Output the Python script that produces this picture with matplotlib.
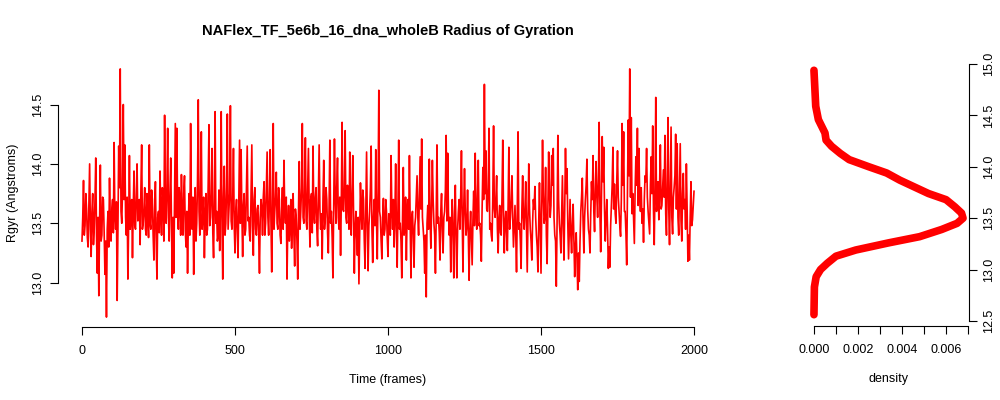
import numpy as np
import matplotlib
matplotlib.use("Agg")
import matplotlib.pyplot as plt

plt.rcParams["font.family"] = ["Liberation Sans", "DejaVu Sans"]

# --- data ---
# samples every 5 frames (spikes and dips)
frames = list(range(0, 2001, 5))
rgyr = [
    13.35, 13.86, 13.48, 13.62, 13.30, 14.00, 13.22, 13.75, 13.45, 14.05,
    13.08, 12.89, 13.99, 13.40, 13.70, 13.07, 12.71, 13.60, 13.88, 13.35,
    13.70, 14.18, 13.45, 12.85, 14.15, 14.80, 13.50, 14.50, 14.16, 13.40,
    13.03, 14.07, 13.55, 13.21, 13.94, 13.45, 14.00, 13.60, 13.32, 14.16,
    13.50, 13.80, 13.40, 13.65, 14.16, 13.45, 13.70, 13.19, 13.85, 13.03,
    13.60, 13.94, 13.40, 13.70, 14.41, 13.50, 14.30, 13.35, 14.05, 13.04,
    13.08, 14.34, 14.30, 13.45, 13.70, 13.91, 13.40, 13.90, 13.30, 13.08,
    13.75, 14.34, 13.45, 13.07, 13.80, 13.50, 14.54, 13.40, 14.27, 13.60,
    13.21, 13.75, 13.45, 14.33, 13.55, 14.13, 13.21, 14.44, 13.60, 13.40,
    13.27, 14.44, 13.03, 13.98, 13.50, 14.42, 13.60, 14.49, 13.45, 14.13,
    13.25, 13.70, 13.21, 14.20, 14.12, 13.22, 13.75, 13.45, 14.15, 13.55,
    13.35, 14.16, 13.23, 13.80, 13.40, 13.65, 13.08, 13.70, 13.40, 13.85,
    13.50, 14.10, 13.40, 14.12, 13.09, 14.34, 13.60, 13.93, 13.45, 13.70,
    13.33, 13.80, 14.03, 13.50, 13.03, 13.65, 13.45, 13.29, 13.75, 13.14,
    13.55, 13.03, 14.02, 13.60, 14.34, 13.50, 14.22, 13.45, 14.13, 13.30,
    13.75, 14.15, 13.50, 13.80, 13.31, 14.16, 13.45, 13.20, 14.03, 13.55,
    13.70, 13.25, 14.20, 13.60, 13.04, 14.21, 13.50, 14.05, 13.45, 13.23,
    14.35, 13.60, 14.28, 13.50, 13.75, 14.10, 13.40, 14.07, 13.08, 13.60,
    13.23, 12.99, 13.84, 13.45, 13.70, 13.12, 14.10, 13.10, 13.60, 14.15,
    13.17, 13.70, 14.12, 13.20, 14.62, 13.55, 13.20, 13.71, 13.45, 13.60,
    13.22, 13.55, 14.07, 13.45, 13.30, 14.00, 13.13, 14.20, 13.50, 13.04,
    13.97, 13.45, 13.19, 13.70, 14.07, 13.04, 13.60, 13.13, 13.55, 13.90,
    13.40, 14.06, 14.21, 13.45, 13.08, 12.88, 13.65, 14.04, 13.29, 14.03,
    13.50, 13.08, 14.16, 13.55, 13.19, 13.75, 13.25, 13.60, 14.24, 14.09,
    13.40, 13.09, 13.70, 13.04, 13.82, 13.04, 13.60, 13.45, 14.11, 13.09,
    13.96, 13.40, 13.78, 13.02, 13.60, 13.15, 13.77, 14.09, 13.45, 14.03,
    13.50, 13.18, 13.97, 14.67, 14.11, 13.60, 14.30, 13.50, 13.35, 14.32,
    13.55, 13.90, 13.25, 13.65, 13.40, 14.20, 13.25, 13.60, 13.27, 14.14,
    13.55, 13.90, 13.30, 13.65, 13.09, 14.27, 13.50, 13.12, 13.90, 13.45,
    13.85, 13.09, 14.00, 13.45, 13.19, 13.70, 13.81, 13.40, 13.09, 13.84,
    13.08, 14.20, 13.50, 13.97, 13.16, 14.10, 13.55, 14.07, 14.13, 13.40,
    12.97, 14.24, 13.50, 13.25, 13.90, 13.19, 14.13, 13.96, 13.20, 13.70,
    13.25, 13.66, 13.05, 13.42, 12.94, 13.01, 13.60, 13.88, 13.25, 13.70,
    14.04, 13.45, 13.25, 13.85, 14.07, 13.43, 14.02, 13.55, 14.35, 13.26,
    14.23, 14.14, 13.35, 13.70, 13.12, 13.13, 13.65, 14.14, 13.83, 13.50,
    14.11, 13.60, 13.39, 14.34, 14.27, 13.60, 13.15, 14.37, 14.80, 14.39,
    13.75, 13.33, 14.06, 14.30, 14.13, 13.60, 13.50, 13.34, 13.90, 14.13,
    13.60, 13.41, 14.06, 14.32, 13.32, 14.56, 13.70, 13.53, 14.16, 13.65,
    13.95, 14.24, 13.40, 14.39, 13.32, 14.31, 13.41, 13.80, 14.25, 14.17,
    13.40, 14.17, 13.35, 13.92, 13.70, 14.00, 13.18, 13.19, 13.85, 13.53,
    13.77,
]

# in-between frames (2.5, 7.5, ...): the dense band around the mean
frames_mid = [f + 2.5 for f in range(0, 2000, 5)]
rgyr_mid = [
    13.55, 13.40, 13.75, 13.38, 13.65, 13.45, 13.60, 13.32, 13.70, 13.40,
    13.55, 13.50, 13.35, 13.72, 13.42, 13.35, 13.45, 13.30, 13.50, 13.62,
    13.42, 13.55, 13.68, 13.45, 13.80, 13.60, 13.78, 13.70, 13.55, 13.72,
    13.50, 13.45, 13.70, 13.62, 13.48, 13.75, 13.52, 13.70, 13.78, 13.45,
    13.62, 13.45, 13.75, 13.38, 13.50, 13.78, 13.40, 13.62, 13.35, 13.55,
    13.42, 13.58, 13.80, 13.35, 13.62, 13.80, 13.55, 13.75, 13.48, 13.55,
    13.70, 13.55, 13.62, 13.80, 13.40, 13.58, 13.75, 13.45, 13.60, 13.50,
    13.40, 13.62, 13.72, 13.48, 13.35, 13.85, 13.60, 13.75, 13.45, 13.72,
    13.55, 13.40, 13.85, 13.48, 13.75, 13.42, 13.70, 13.50, 13.35, 13.78,
    13.65, 13.50, 13.72, 13.40, 13.80, 13.45, 13.75, 13.52, 13.70, 13.48,
    13.60, 13.42, 13.72, 13.50, 13.58, 13.65, 13.40, 13.78, 13.52, 13.40,
    13.78, 13.48, 13.70, 13.45, 13.62, 13.40, 13.55, 13.62, 13.72, 13.40,
    13.78, 13.55, 13.70, 13.52, 13.62, 13.45, 13.72, 13.50, 13.80, 13.40,
    13.60, 13.45, 13.62, 13.72, 13.48, 13.35, 13.70, 13.55, 13.40, 13.62,
    13.35, 13.60, 13.45, 13.80, 13.55, 13.75, 13.52, 13.78, 13.60, 13.70,
    13.42, 13.58, 13.72, 13.45, 13.75, 13.62, 13.58, 13.70, 13.45, 13.80,
    13.42, 13.65, 13.50, 13.38, 13.62, 13.72, 13.80, 13.55, 13.72, 13.70,
    13.62, 13.80, 13.55, 13.82, 13.45, 13.62, 13.78, 13.55, 13.45, 13.40,
    13.55, 13.42, 13.60, 13.78, 13.35, 13.62, 13.50, 13.48, 13.80, 13.45,
    13.55, 13.48, 13.52, 13.75, 13.60, 13.35, 13.55, 13.40, 13.70, 13.38,
    13.58, 13.40, 13.62, 13.70, 13.55, 13.45, 13.62, 13.45, 13.35, 13.55,
    13.40, 13.72, 13.58, 13.45, 13.50, 13.55, 13.40, 13.48, 13.72, 13.55,
    13.72, 13.62, 13.55, 13.35, 13.40, 13.50, 13.45, 13.55, 13.62, 13.70,
    13.40, 13.55, 13.50, 13.42, 13.60, 13.45, 13.55, 13.78, 13.52, 13.60,
    13.55, 13.48, 13.40, 13.58, 13.35, 13.45, 13.70, 13.72, 13.55, 13.62,
    13.60, 13.48, 13.40, 13.45, 13.38, 13.52, 13.48, 13.62, 13.70, 13.48,
    13.40, 13.62, 13.70, 13.75, 13.62, 13.80, 13.45, 13.40, 13.72, 13.62,
    13.70, 13.45, 13.55, 13.42, 13.72, 13.60, 13.50, 13.42, 13.65, 13.45,
    13.70, 13.55, 13.48, 13.40, 13.62, 13.45, 13.35, 13.62, 13.55, 13.62,
    13.45, 13.55, 13.62, 13.35, 13.50, 13.62, 13.55, 13.30, 13.50, 13.45,
    13.62, 13.75, 13.55, 13.40, 13.60, 13.78, 13.65, 13.82, 13.55, 13.35,
    13.50, 13.70, 13.40, 13.60, 13.48, 13.62, 13.75, 13.50, 13.45, 13.40,
    13.50, 13.35, 13.30, 13.20, 13.25, 13.35, 13.72, 13.50, 13.55, 13.82,
    13.62, 13.40, 13.58, 13.70, 13.60, 13.78, 13.72, 13.85, 13.60, 13.70,
    13.85, 13.62, 13.55, 13.45, 13.30, 13.48, 13.82, 13.62, 13.58, 13.85,
    13.72, 13.48, 13.70, 13.82, 13.60, 13.42, 13.78, 13.90, 13.72, 13.58,
    13.55, 13.78, 13.82, 13.65, 13.72, 13.80, 13.62, 13.70, 13.85, 13.72,
    13.50, 13.82, 13.75, 13.62, 13.78, 13.60, 13.85, 13.82, 13.62, 13.80,
    13.72, 13.58, 13.85, 13.62, 13.80, 13.55, 13.72, 13.90, 13.62, 13.55,
    13.78, 13.52, 13.75, 13.62, 13.45, 13.62, 13.40, 13.55, 13.48, 13.65,
]

# density of Rgyr (value, density)
dens_y = [12.56, 12.83, 12.93, 13.00, 13.06, 13.13, 13.19, 13.26, 13.32,
          13.39, 13.45, 13.50, 13.55, 13.61, 13.68, 13.74, 13.81, 13.87,
          13.94, 14.00, 14.07, 14.13, 14.20, 14.26, 14.33, 14.46, 14.59, 14.94]
dens_x = [0.0, 0.00002, 0.0001, 0.0003, 0.0006, 0.0010, 0.0019, 0.0034, 0.0048,
          0.0058, 0.0065, 0.00677, 0.0067, 0.0064, 0.0060, 0.0052, 0.0045,
          0.0039, 0.0033, 0.0025, 0.0016, 0.0012, 0.0008, 0.00055, 0.0005,
          0.0002, 0.00008, 0.0]

red = "#ff0000"
fs = 9


def r_lim(vals):
    lo, hi = min(vals), max(vals)
    pad = 0.04 * (hi - lo)
    return lo - pad, hi + pad


# put both sample lists in frame order
order = np.argsort(np.array(frames + frames_mid, dtype=float), kind="stable")
t_all = np.array(frames + frames_mid, dtype=float)[order]
r_all = np.array(rgyr + rgyr_mid)[order]

fig = plt.figure(figsize=(10, 4), dpi=100)

# time series panel
ax = fig.add_axes([0.0575, 0.1825, 0.661, 0.67])
ax.plot(t_all, r_all, color=red, lw=1.2)
ax.set_xlim(*r_lim(frames))
ax.set_ylim(*r_lim(rgyr))
ax.set_xticks([0, 500, 1000, 1500, 2000])
ax.set_yticks([13.0, 13.5, 14.0, 14.5])
ax.set_yticklabels(["13.0", "13.5", "14.0", "14.5"], rotation=90, va="center")
for s in ["top", "right"]:
    ax.spines[s].set_visible(False)
ax.spines["bottom"].set_bounds(0, 2000)
ax.spines["left"].set_bounds(13.0, 14.5)
ax.tick_params(direction="out", length=6, labelsize=fs)
ax.tick_params(axis="x", pad=7)
ax.tick_params(axis="y", pad=4)
ax.set_xlabel("Time (frames)", fontsize=fs, labelpad=12)
ax.set_ylabel("Rgyr (Angstroms)", fontsize=fs, labelpad=9)

# density panel
ax2 = fig.add_axes([0.808, 0.185, 0.161, 0.6675])
ax2.plot(dens_x, dens_y, color=red, lw=5.5, solid_capstyle="round")
ax2.set_xlim(*r_lim(dens_x))
ax2.set_ylim(12.45, 15.05)
ax2.yaxis.tick_right()
ax2.set_xticks([0.000, 0.001, 0.002, 0.003, 0.004, 0.005, 0.006, 0.007])
ax2.set_xticklabels(["0.000", "", "0.002", "", "0.004", "", "0.006", ""])
ax2.set_yticks([12.5, 13.0, 13.5, 14.0, 14.5, 15.0])
ax2.set_yticklabels(["12.5", "13.0", "13.5", "14.0", "14.5", "15.0"],
                    rotation=90, va="center")
for s in ["top", "left"]:
    ax2.spines[s].set_visible(False)
ax2.spines["bottom"].set_bounds(0.0, 0.007)
ax2.spines["right"].set_bounds(12.5, 15.0)
ax2.tick_params(direction="out", length=6, labelsize=fs)
ax2.tick_params(axis="x", pad=7)
ax2.tick_params(axis="y", pad=4)
ax2.set_xlabel("density", fontsize=fs, labelpad=12)

fig.text(0.388, 1 - 31 / 400, "NAFlex_TF_5e6b_16_dna_wholeB Radius of Gyration",
         ha="center", va="center", fontsize=10.5, fontweight="bold")

fig.savefig("out.png", dpi=100)
